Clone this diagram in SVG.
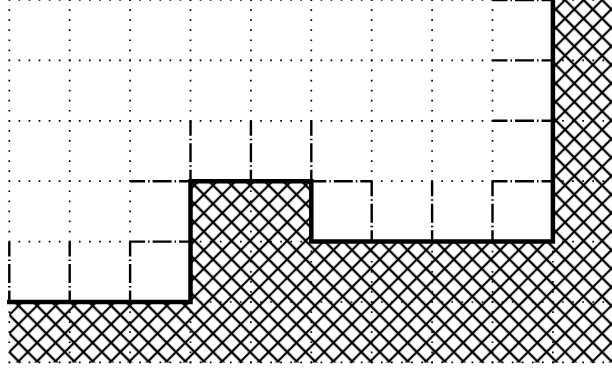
<svg xmlns="http://www.w3.org/2000/svg" width="612" height="370" viewBox="0 0 612 370">
<style>
.dot{fill:none;stroke:#000;stroke-width:1.7;stroke-dasharray:1.7 8.367;stroke-dashoffset:0.85}
.dd{fill:none;stroke:#000;stroke-width:2.4;stroke-dasharray:15 3 1.5 3 19 3 1.5 3 30 0}
.thick{fill:none;stroke:#000;stroke-width:4.5;stroke-linejoin:miter;stroke-linecap:square}
</style>
<defs>
<pattern id="hatch" patternUnits="userSpaceOnUse" width="13.1" height="13.1" patternTransform="rotate(45)">
<path d="M0,6.55 H13.1 M6.55,0 V13.1" stroke="#000" stroke-width="2.2" fill="none"/>
</pattern>
</defs>
<rect width="612" height="370" fill="#fff"/>
<g id="grid">
<path class="dot" d="M9.3,0 H492.5 M552.9,0 H612 M9.3,60.4 H492.5 M552.9,60.4 H612 M9.3,120.8 H492.5 M552.9,120.8 H612 M9.3,181.2 H130.1 M371.7,181.2 H492.5 M552.9,181.2 H612 M9.3,241.6 H130.1 M190.5,241.6 H311.3 M552.9,241.6 H612 M190.5,302 H612 M9.3,362.4 H612"/>
<path class="dot" d="M9.3,0 V241.6 M9.3,302 V370 M69.7,0 V241.6 M69.7,302 V370 M130.1,0 V241.6 M130.1,302 V370 M190.5,0 V120.8 M190.5,302 V370 M250.9,0 V120.8 M250.9,181.2 V370 M311.3,0 V120.8 M311.3,241.6 V370 M371.7,0 V181.2 M371.7,241.6 V370 M432.1,0 V181.2 M432.1,241.6 V370 M492.5,0 V181.2 M492.5,241.6 V370 M552.9,241.6 V370"/>
</g>
<g id="hatch-region">
<path d="M9.3,302 H190.5 V181.2 H311.3 V241.6 H552.9 V-2 H612 V362.4 H9.3 Z" fill="url(#hatch)"/>
</g>
<g id="cell-edges">
<path class="dd" d="M492.5,0 H552.9 M492.5,60.4 H552.9 M492.5,120.8 H552.9 M492.5,181.2 H552.9 M130.1,181.2 H190.5 M311.3,181.2 H371.7 M130.1,241.6 H190.5"/>
<path class="dd" d="M9.3,241.6 V302 M69.7,241.6 V302 M130.1,241.6 V302 M190.5,120.8 V181.2 M250.9,120.8 V181.2 M311.3,120.8 V181.2 M371.7,181.2 V241.6 M432.1,181.2 V241.6 M492.5,181.2 V241.6"/>
</g>
<g id="boundary">
<path class="thick" d="M9.3,302 H190.5 V181.2 H311.3 V241.6 H552.9 V-4"/>
</g>
</svg>
